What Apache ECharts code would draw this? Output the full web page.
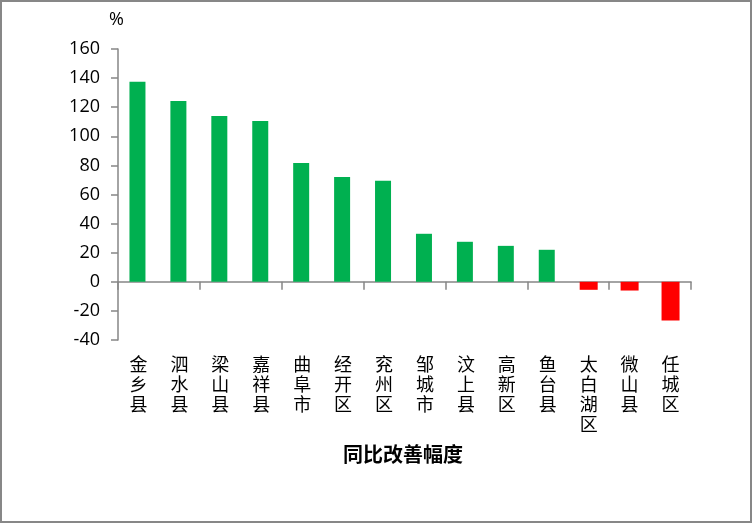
<!DOCTYPE html>
<html>
<head>
<meta charset="utf-8">
<script src="https://cdn.jsdelivr.net/npm/echarts@6/dist/echarts.min.js"></script>
<style>
html,body{margin:0;padding:0;background:#fff;}
#chart{width:753px;height:525px;}
</style>
</head>
<body>
<div id="chart"></div>
<script>
const categories = ['金乡县','泗水县','梁山县','嘉祥县','曲阜市','经开区','兖州区','邹城市','汶上县','高新区','鱼台县','太白湖区','微山县','任城区'];
const values = [137.5, 124.3, 114, 110.6, 81.7, 72.1, 69.4, 33, 27.5, 24.7, 22, -5.5, -6, -26.6];
const yTicks = { min: -40, max: 160, interval: 20 };
const unitLabel = '%';
const xTitle = '同比改善幅度';

const positive = values.map(v => v >= 0 ? v : null);
const negative = values.map(v => v < 0 ? v : null);

const chart = echarts.init(document.getElementById('chart'));
const axisColor = '#868686';
const cjk = '"Noto Sans CJK SC", "Noto Sans", sans-serif';
chart.setOption({
  animation: false,
  grid: { left: 118, right: 62, top: 49, bottom: 185, containLabel: false },
  xAxis: [
    {
      type: 'category', data: categories, position: 'bottom',
      axisLine: { onZero: true, lineStyle: { color: axisColor, width: 1.5 } },
      axisTick: { show: true, length: 8, lineStyle: { color: axisColor, width: 1.5 } },
      axisLabel: { show: false }
    },
    {
      type: 'category', data: categories, position: 'bottom',
      axisLine: { show: false, onZero: false },
      axisTick: { show: false },
      axisLabel: {
        show: true, margin: 14, interval: 0,
        fontFamily: cjk, fontSize: 18, lineHeight: 20, color: '#000',
        formatter: v => v.split('').join('\n')
      }
    }
  ],
  yAxis: {
    type: 'value', min: yTicks.min, max: yTicks.max, interval: yTicks.interval,
    splitLine: { show: false },
    axisLine: { show: true, onZero: false, lineStyle: { color: axisColor, width: 1.5 } },
    axisTick: { show: true, length: 7, lineStyle: { color: axisColor, width: 1.5 } },
    axisLabel: { margin: 18, fontFamily: '"Open Sans", sans-serif', fontSize: 18, color: '#000' }
  },
  series: [
    { type: 'bar', data: positive, barWidth: 16, barGap: '-100%', itemStyle: { color: '#00B050' }, xAxisIndex: 0 },
    { type: 'bar', data: negative, barWidth: 18, barGap: '-100%', itemStyle: { color: '#FF0000' }, xAxisIndex: 0 }
  ],
  graphic: [
    { type: 'rect', shape: { x: 1, y: 1, width: 750, height: 521 }, style: { fill: 'none', stroke: '#878787', lineWidth: 2 }, silent: true },
    { type: 'text', left: 109, top: 11, style: { text: unitLabel, fontFamily: '"Open Sans", sans-serif', fontSize: 18, fill: '#000' } },
    { type: 'text', left: 343, top: 444, style: { text: xTitle, fontFamily: cjk, fontSize: 20, fontWeight: 'bold', fill: '#000' } }
  ]
});
</script>
</body>
</html>
